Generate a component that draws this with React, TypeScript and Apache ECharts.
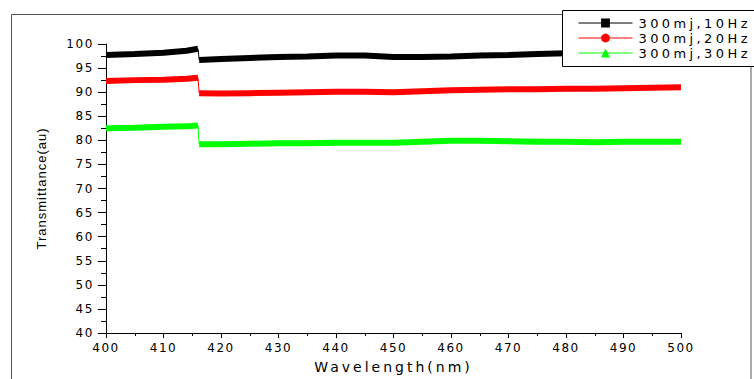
import React, { useEffect, useRef } from "react";
import * as echarts from "echarts";

const wavelengths = [400, 405, 410, 414, 416, 416.1, 416.2, 420, 425, 430, 435, 440, 445, 450, 455, 460, 465, 470, 475, 480, 485, 490, 495, 500];
const hz10 = [97.7, 97.9, 98.2, 98.6, 99.0, null, 96.7, 96.9, 97.1, 97.3, 97.4, 97.6, 97.6, 97.3, 97.3, 97.4, 97.6, 97.7, 97.9, 98.1, 98.2, 98.3, 98.4, 98.5];
const hz20 = [92.3, 92.5, 92.6, 92.8, 93.0, null, 89.8, 89.7, 89.8, 89.9, 90.0, 90.1, 90.1, 90.0, 90.2, 90.4, 90.5, 90.6, 90.6, 90.7, 90.7, 90.8, 90.9, 91.0];
const hz30 = [82.5, 82.6, 82.8, 82.9, 83.1, null, 79.2, 79.2, 79.3, 79.4, 79.4, 79.5, 79.5, 79.5, 79.7, 79.9, 79.9, 79.8, 79.7, 79.7, 79.6, 79.7, 79.7, 79.7];
const seriesNames = ["300mj,10Hz", "300mj,20Hz", "300mj,30Hz"];
const seriesColors = ["#000000", "#ff0000", "#00ff00"];
const seriesSymbols = ["rect", "circle", "triangle"];
const xAxisTitle = "Wavelength(nm)";
const yAxisTitle = "Transmittance(au)";

const FONT = "'DejaVu Sans', Verdana, sans-serif";
const FONT_Y = "'Liberation Sans', Arial, sans-serif";

export default function App() {
  const ref = useRef<HTMLDivElement>(null);
  useEffect(() => {
    const el = ref.current!;
    const chart = echarts.init(el, null, { renderer: "svg" });
    const all = [hz10, hz20, hz30];
    const series: any[] = [];
    all.forEach((vals, i) => {
      series.push({
        name: seriesNames[i],
        type: "line",
        data: wavelengths.map((w, k) => [w, vals[k] === null ? "-" : vals[k]]),
        symbol: seriesSymbols[i],
        showSymbol: false,
        connectNulls: false,
        lineStyle: { color: seriesColors[i], width: 6 },
        itemStyle: { color: seriesColors[i] },
        z: 2,
      });
      series.push({
        name: seriesNames[i] + "-jump",
        type: "line",
        data: [
          [wavelengths[4], vals[4]],
          [wavelengths[6], vals[6]],
        ],
        symbol: "none",
        lineStyle: { color: seriesColors[i], width: 1 },
        z: 2,
      });
    });
    chart.setOption({
      animation: false,
      backgroundColor: "#ffffff",
      grid: { left: 106, right: 73, top: 44, bottom: 43 },
      legend: {
        data: seriesNames,
        orient: "vertical",
        left: 578,
        top: 16.5,
        padding: 0,
        itemGap: 2,
        itemWidth: 54,
        itemHeight: 11,
        z: 10,
        lineStyle: { width: 1 },
        textStyle: { fontFamily: FONT, fontSize: 13, color: "#000", padding: [0, 0, 0, 1] },
      },
      graphic: [
        {
          type: "rect",
          z: 0,
          shape: { x: 11.5, y: 14.5, width: 739.5, height: 400 },
          style: { fill: "none", stroke: "#555", lineWidth: 1 },
        },
        {
          type: "rect",
          z: 5,
          shape: { x: 562.5, y: 10.5, width: 220, height: 56 },
          style: { fill: "#fff", stroke: "#000", lineWidth: 1 },
        },
      ],
      xAxis: {
        type: "value",
        min: 400,
        max: 500,
        interval: 10,
        name: xAxisTitle,
        nameLocation: "middle",
        nameGap: 27,
        nameTextStyle: { fontFamily: FONT, fontSize: 14, color: "#000" },
        axisLine: { show: true, lineStyle: { color: "#000", width: 1 } },
        axisTick: { show: true, length: 5, lineStyle: { color: "#000" } },
        minorTick: { show: true, splitNumber: 2, length: 3, lineStyle: { color: "#000" } },
        axisLabel: { fontFamily: FONT, fontSize: 12, color: "#000", margin: 9 },
        splitLine: { show: false },
      },
      yAxis: {
        type: "value",
        min: 40,
        max: 100,
        interval: 5,
        name: yAxisTitle,
        nameLocation: "middle",
        nameGap: 58,
        nameTextStyle: { fontFamily: FONT_Y, fontSize: 13, color: "#000" },
        axisLine: { show: true, lineStyle: { color: "#000", width: 1 } },
        axisTick: { show: true, length: 8, lineStyle: { color: "#000" } },
        minorTick: { show: true, splitNumber: 2, length: 5, lineStyle: { color: "#000" } },
        axisLabel: { fontFamily: FONT, fontSize: 12, color: "#000", margin: 12 },
        splitLine: { show: false },
      },
      series,
    });
    const applySpacing = () => {
      el.querySelectorAll("text").forEach((t) => {
        const s = t.textContent || "";
        let ls = 0;
        if (s.startsWith("300mj")) ls = 3.4;
        else if (s === xAxisTitle) ls = 3;
        else if (s === yAxisTitle) ls = 1;
        else if (/^\d+$/.test(s)) ls = 1.6;
        if (ls) t.setAttribute("letter-spacing", String(ls));
      });
    };
    applySpacing();
    chart.on("finished", applySpacing);
    const raf = requestAnimationFrame(applySpacing);
    return () => {
      cancelAnimationFrame(raf);
      chart.dispose();
    };
  }, []);
  return (
    <div
      ref={ref}
      style={{ position: "fixed", left: 0, top: 0, width: 754, height: 379, background: "#fff" }}
    />
  );
}
